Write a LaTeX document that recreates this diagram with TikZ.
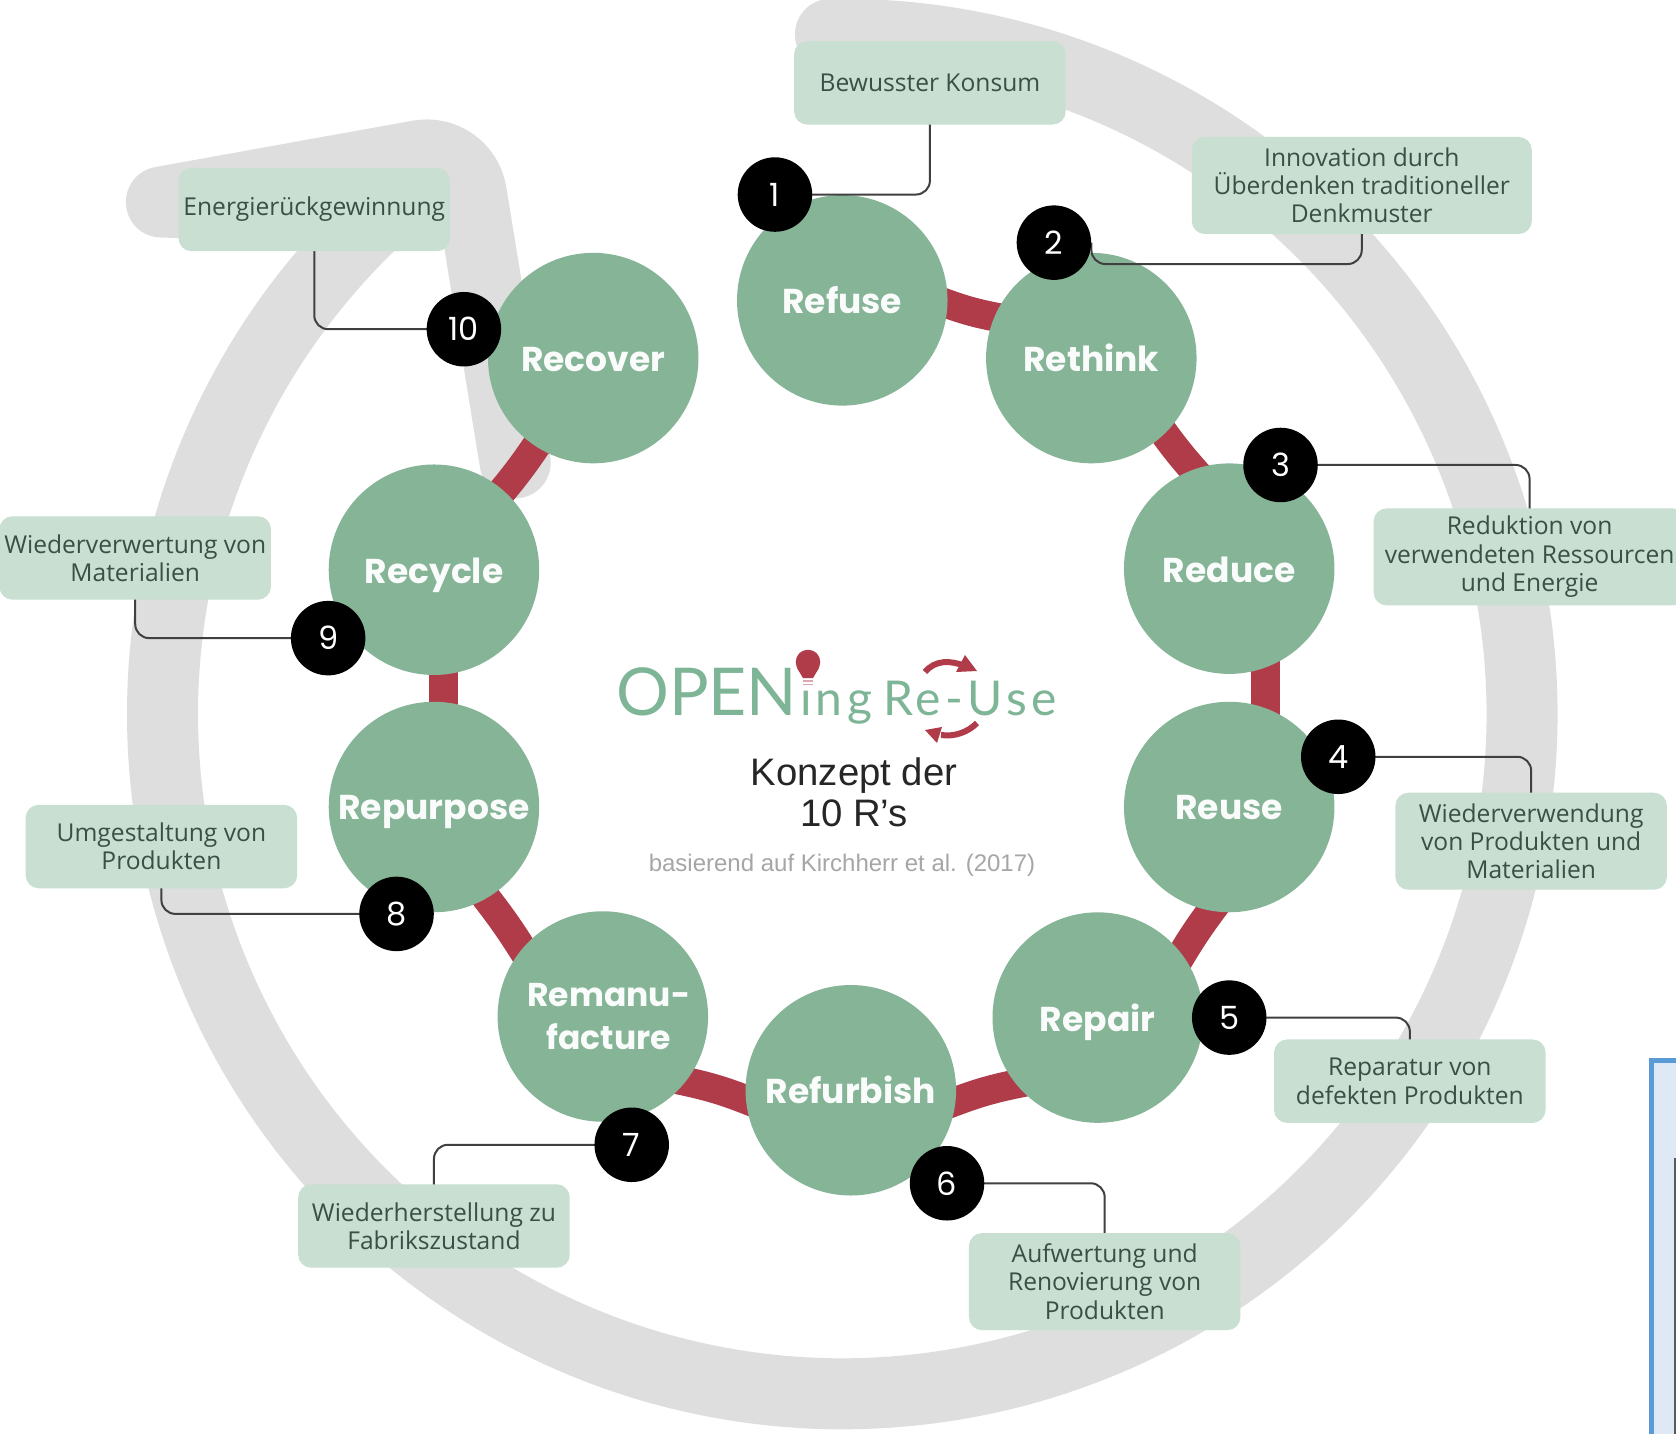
\documentclass[tikz,border=0pt]{standalone}
\usepackage{fontspec}
\setmainfont{Open Sans}
\newfontfamily\titlefont{Poppins}
\newfontfamily\logofont{Lato}
\newfontfamily\arialfont{Liberation Sans}
\usetikzlibrary{shapes.geometric,calc}
\pgfdeclarelayer{bg}\pgfdeclarelayer{conn}\pgfdeclarelayer{front}
\pgfsetlayers{bg,main,conn,front}
\definecolor{ringgray}{HTML}{DEDEDE}
\definecolor{rgreen}{HTML}{86B497}
\definecolor{boxgreen}{HTML}{C9DFD2}
\definecolor{linkred}{HTML}{B03C4A}
\definecolor{logogreen}{HTML}{7DB596}
\definecolor{boxtext}{HTML}{3A4F45}
\definecolor{framefill}{HTML}{DEE9F5}
\definecolor{frameblue}{HTML}{5B9BD5}
\tikzset{
 ringband/.style={draw=ringgray,line width=71pt,line cap=round,line join=round},
 rcircle/.style={circle,fill=rgreen,minimum size=210.5pt,inner sep=0pt,text=white!96!rgreen,align=center,
   font=\titlefont\bfseries\fontsize{34.5}{41.5}\selectfont},
 oneline/.style={text height=27pt,text depth=0pt},
 highline/.style={text height=24pt,text depth=0pt},
 badge/.style={circle,fill=black,minimum size=74.5pt,inner sep=0pt,text=white,font=\titlefont\fontsize{32}{36}\selectfont},
 tbox/.style={rectangle,rounded corners=13pt,fill=boxgreen,inner sep=0pt,align=center,text=boxtext,
   font=\fontsize{24.6}{28.3}\selectfont},
 sbox/.style={tbox,minimum width=271.5pt,minimum height=83.4pt},
 lbox/.style={tbox,minimum width=271.5pt,minimum height=97pt},
 conn/.style={draw=black!75,line width=2pt,rounded corners=14pt},
 rlink/.style={draw=linkred,line width=29pt,shorten >=-14pt,shorten <=-14pt},
}
\begin{document}
\begin{tikzpicture}[x=1.0689pt,y=-1.0689pt]
\useasboundingbox (0,0) rectangle (1568,1342);
% green circles
\node[rcircle,oneline] (refuse) at (788,281) {Refuse};
\node[rcircle,oneline] (rethink) at (1021,335) {Rethink};
\node[rcircle,oneline] (reduce) at (1150,532) {Reduce};
\node[rcircle,highline] (reuse) at (1150,755) {Reuse};
\node[rcircle,oneline] (repair) at (1027,952) {Repair};
\node[rcircle,oneline] (refurbish) at (796,1020) {Refurbish};
\node[rcircle,font=\titlefont\bfseries\fontsize{33}{42.5}\selectfont] (remanu) at (564,951) {\hspace*{12pt}Remanu-\\\hspace*{12pt}facture};
\node[rcircle,highline] (repurpose) at (406,755) {Repurpose};
\node[rcircle,oneline] (recycle) at (406,533) {Recycle};
\node[rcircle,oneline] (recover) at (555,335) {Recover};
\begin{pgfonlayer}{bg}
 \fill[white] (0,0) rectangle (1568,1342);
 \coordinate (ringA) at (363,195);
 \coordinate (ringB) at (151,189);
 \coordinate (ringC) at (434,138);
 \coordinate (ringD) at (482,433);
 \draw[ringband] plot[domain=-91:228,samples=150,smooth] ({788+636*cos(\x)},{668+636*sin(\x)});
 \draw[ringband] (ringA) -- (ringB) -- ($(ringB)!0.5!(ringC)$);
 \draw[ringband,rounded corners=46pt] ($(ringB)!0.5!(ringC)$) -- (ringC) -- (ringD);
 \draw[rlink] (refuse.-2) to[bend right=5] (rethink.157);
 \draw[rlink] (rethink.-46) to[bend right=3] (reduce.110);
 \draw[rlink] (reduce.-70) -- (reuse.70);
 \draw[rlink] (reuse.-100) to[bend right=3] (repair.37);
 \draw[rlink] (repair.-141) to[bend right=5] (refurbish.-6);
 \draw[rlink] (refurbish.185) to[bend right=5] (remanu.-38);
 \draw[rlink] (remanu.140) to[bend right=3] (repurpose.-60);
 \draw[rlink] (repurpose.85) -- (recycle.-85);
 \draw[rlink] (recycle.49) to[bend right=3] (recover.-123);
\end{pgfonlayer}
\begin{pgfonlayer}{front}
 \node[badge] (b1) at (725,182) {1};
 \node[badge] (b2) at (986,227) {2};
 \node[badge] (b3) at (1198,435) {3};
 \node[badge] (b4) at (1252,708) {4};
 \node[badge] (b5) at (1150,952) {5};
 \node[badge] (b6) at (886,1107) {6};
 \node[badge] (b7) at (591,1071) {7};
 \node[badge] (b8) at (371,855) {8};
 \node[badge] (b9) at (307,597) {9};
 \node[badge] (b10) at (434,308) {10};
 \node[sbox] (t1) at (870,77.5) {Bewusster Konsum};
 \node[lbox,minimum width=340pt] (t2) at (1274,173.5) {Innovation durch\\Überdenken traditioneller\\Denkmuster};
 \node[lbox,minimum width=312pt] (t3) at (1431,521) {Reduktion von\\verwendeten Ressourcen\\und Energie};
 \node[lbox] (t4) at (1432.5,787) {Wiederverwendung\\von Produkten und\\Materialien};
 \node[sbox] (t5) at (1319,1011.5) {Reparatur von\\defekten Produkten};
 \node[lbox] (t6) at (1033.5,1199) {Aufwertung und\\Renovierung von\\Produkten};
 \node[sbox] (t7) at (406,1147) {Wiederherstellung zu\\Fabrikszustand};
 \node[sbox] (t8) at (151,792) {Umgestaltung von\\Produkten};
 \node[sbox] (t9) at (126.5,522) {Wiederverwertung von\\Materialien};
 \node[sbox] (t10) at (294,196) {Energierückgewinnung};
\end{pgfonlayer}
\begin{pgfonlayer}{conn}
 \draw[conn] (b1.center) -| (t1.center);
 \draw[conn] (b2.east) -- ++(0,20) -| (t2.center);
 \draw[conn] (b3.center) -| (t3.center);
 \draw[conn] (b4.center) -| (t4.center);
 \draw[conn] (b5.center) -| (t5.center);
 \draw[conn] (b6.center) -| (t6.center);
 \draw[conn] (b7.center) -| (t7.center);
 \draw[conn] (b8.center) -| (t8.center);
 \draw[conn] (b9.center) -| (t9.center);
 \draw[conn] (b10.center) -| (t10.center);
\end{pgfonlayer}
% centre logo, in full pixel coordinates
\begin{scope}[x=1pt,y=-1pt]
 \node[anchor=base west,inner sep=0pt,text=logogreen,font=\logofont] (logo) at (616,715) {\fontsize{66}{66}\selectfont OPEN\hspace{3pt}\fontsize{48}{48}\selectfont\addfontfeature{LetterSpace=9} ing\hspace{11pt}Re-Use};
 \fill[linkred] (808,662) circle[radius=12.3pt];
 \fill[linkred] (797,668) -- (819,668) -- (813,678) -- (803,678) -- cycle;
 \fill[white] (800,679) rectangle (816,687);
 \foreach \yy in {680,683.5}{\fill[linkred!45] (803,\yy) rectangle (813,\yy+1.6);}
 \draw[linkred,line width=6pt] (925,672) .. controls (935,660) and (950,660) .. (965,666);
 \fill[linkred] (965,655) -- (977,671) -- (956,672) -- cycle;
 \draw[linkred,line width=6pt] (977,723) .. controls (968,732) and (955,737) .. (941,735);
 \fill[linkred] (942,727) -- (925,730) -- (937,743) -- cycle;
 \node[inner sep=0pt,align=center,text=black!85,font=\arialfont\fontsize{38.3}{41}\selectfont] (concept) at (854,792) {Konzept der\\10 R’s};
 \node[inner sep=0pt,text=black!35,font=\arialfont\fontsize{24}{28}\selectfont] (source) at (842,865) {basierend auf Kirchherr et al. (2017)};
 % fragment of a frame at the lower right
 \fill[framefill] (1651,1060) rectangle (1676,1434);
 \draw[frameblue,line width=5pt] (1676,1060.5) -- (1651.5,1060.5) -- (1651.5,1434);
 \draw[black!65,line width=2pt] (1675,1158) -- (1675,1434);
\end{scope}
\end{tikzpicture}
\end{document}
